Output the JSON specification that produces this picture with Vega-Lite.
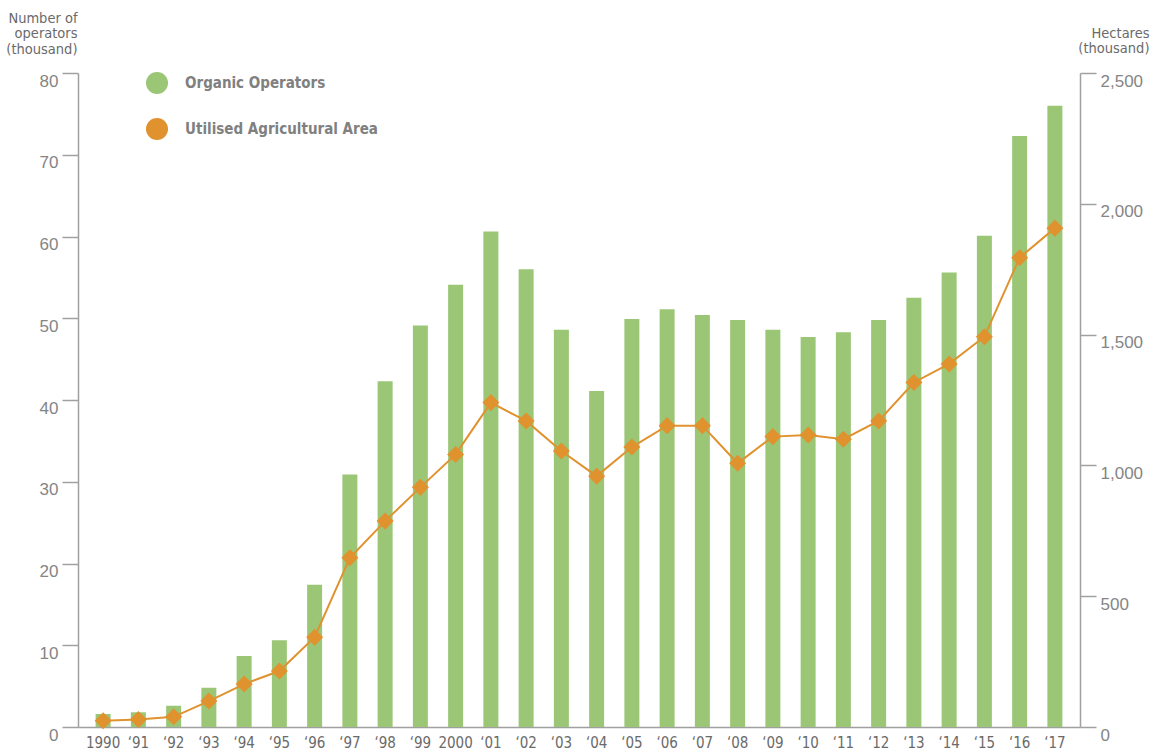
{
  "$schema": "https://vega.github.io/schema/vega-lite/v6.json",
  "width": 1002,
  "height": 654,
  "autosize": {"type": "none"},
  "padding": {"left": 78, "top": 73, "right": 79, "bottom": 24},
  "background": "white",
  "config": {
    "view": {"stroke": null},
    "axis": {
      "domainColor": "#a0a0a0",
      "domainWidth": 1.5,
      "tickColor": "#a0a0a0",
      "tickWidth": 1.5,
      "grid": false,
      "labelFont": "Liberation Sans",
      "labelColor": "#858585",
      "titleFont": "DejaVu Sans Condensed, Liberation Sans Narrow, sans-serif",
      "titleFontWeight": "normal",
      "titleColor": "#6a6a6a"
    },
    "legend": {
      "orient": "none",
      "legendX": 68,
      "legendY": -1,
      "direction": "vertical",
      "symbolType": "circle",
      "symbolSize": 484,
      "symbolStrokeWidth": 0,
      "symbolOpacity": 1,
      "labelFont": "DejaVu Sans Condensed, Liberation Sans Narrow, sans-serif",
      "labelFontWeight": "bold",
      "labelFontSize": 15,
      "labelColor": "#808080",
      "labelLimit": 400,
      "rowPadding": 24,
      "labelOffset": 17,
      "padding": 0,
      "titlePadding": 0
    }
  },
  "data": {
    "values": [
      {"year": "1990", "operators": 1.6, "area": 24},
      {"year": "‘91", "operators": 1.8, "area": 29},
      {"year": "‘92", "operators": 2.6, "area": 39},
      {"year": "‘93", "operators": 4.8, "area": 99},
      {"year": "‘94", "operators": 8.7, "area": 164},
      {"year": "‘95", "operators": 10.6, "area": 214},
      {"year": "‘96", "operators": 17.4, "area": 343},
      {"year": "‘97", "operators": 30.9, "area": 647},
      {"year": "‘98", "operators": 42.3, "area": 787},
      {"year": "‘99", "operators": 49.1, "area": 916},
      {"year": "2000", "operators": 54.1, "area": 1042},
      {"year": "‘01", "operators": 60.6, "area": 1240},
      {"year": "‘02", "operators": 56.0, "area": 1170},
      {"year": "‘03", "operators": 48.6, "area": 1055},
      {"year": "‘04", "operators": 41.1, "area": 959},
      {"year": "‘05", "operators": 49.9, "area": 1070},
      {"year": "‘06", "operators": 51.1, "area": 1152},
      {"year": "‘07", "operators": 50.4, "area": 1152},
      {"year": "‘08", "operators": 49.8, "area": 1008},
      {"year": "‘09", "operators": 48.6, "area": 1110},
      {"year": "‘10", "operators": 47.7, "area": 1116},
      {"year": "‘11", "operators": 48.3, "area": 1100},
      {"year": "‘12", "operators": 49.8, "area": 1170},
      {"year": "‘13", "operators": 52.5, "area": 1317},
      {"year": "‘14", "operators": 55.6, "area": 1388},
      {"year": "‘15", "operators": 60.1, "area": 1492},
      {"year": "‘16", "operators": 72.3, "area": 1794},
      {"year": "‘17", "operators": 76.0, "area": 1907}
    ]
  },
  "encoding": {
    "x": {
      "field": "year",
      "type": "nominal",
      "sort": null,
      "scale": {"paddingInner": 0.575, "paddingOuter": 0.5},
      "axis": {
        "title": null,
        "labelAngle": 0,
        "labelFont": "DejaVu Sans Condensed, Liberation Sans Narrow, sans-serif",
        "labelFontSize": 15,
        "labelColor": "#6a6a6a",
        "labelPadding": 8,
        "labelBaseline": "top",
        "ticks": false
      }
    }
  },
  "layer": [
    {
      "mark": {"type": "bar"},
      "encoding": {
        "y": {
          "field": "operators",
          "type": "quantitative",
          "scale": {"domain": [0, 80], "nice": false},
          "axis": {
            "orient": "left",
            "values": [0, 10, 20, 30, 40, 50, 60, 70, 80],
            "labelFontSize": 17,
            "tickSize": 16,
            "labelPadding": 4,
            "labelOffset": 8,
            "title": ["Number of", "operators", "(thousand)"],
            "titleAngle": 0,
            "titleAlign": "right",
            "titleBaseline": "alphabetic",
            "titleX": -1,
            "titleY": -51,
            "titleFontSize": 14.5,
            "titleLineHeight": 15.5
          }
        },
        "color": {
          "datum": "Organic Operators",
          "type": "nominal",
          "scale": {
            "domain": ["Organic Operators", "Utilised Agricultural Area"],
            "range": ["#9ac676", "#e0922f"]
          },
          "legend": {
            "title": null,
            "encode": {
              "symbols": {
                "update": {
                  "fill": {"scale": "color", "field": "value"},
                  "stroke": {"value": "transparent"},
                  "shape": {"value": "circle"},
                  "opacity": {"value": 1}
                }
              }
            }
          }
        }
      }
    },
    {
      "mark": {
        "type": "line",
        "strokeWidth": 2,
        "point": {"shape": "diamond", "size": 290, "filled": true, "opacity": 1}
      },
      "encoding": {
        "y": {
          "field": "area",
          "type": "quantitative",
          "scale": {"domain": [0, 2500], "nice": false},
          "axis": {
            "orient": "right",
            "values": [0, 500, 1000, 1500, 2000, 2500],
            "format": ",d",
            "labelFontSize": 17,
            "tickSize": 16,
            "labelPadding": 4,
            "labelOffset": 8,
            "title": ["Hectares", "(thousand)"],
            "titleAngle": 0,
            "titleAlign": "right",
            "titleBaseline": "alphabetic",
            "titleX": 69,
            "titleY": -36,
            "titleFontSize": 14.5,
            "titleLineHeight": 15.5
          }
        },
        "color": {"datum": "Utilised Agricultural Area", "type": "nominal"}
      }
    }
  ],
  "resolve": {"scale": {"y": "independent"}}
}
